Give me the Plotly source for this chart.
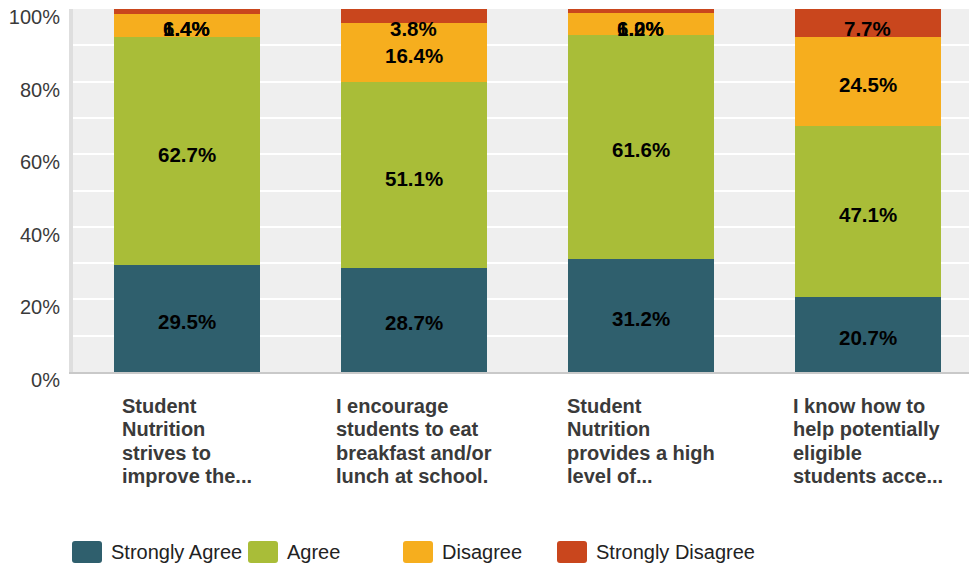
import plotly.graph_objects as go

# ---- data ---------------------------------------------------------------
categories = [
    "Student<br>Nutrition<br>strives to<br>improve the...",
    "I encourage<br>students to eat<br>breakfast and/or<br>lunch at school.",
    "Student<br>Nutrition<br>provides a high<br>level of...",
    "I know how to<br>help potentially<br>eligible<br>students acce...",
]
series_names = ["Strongly Agree", "Agree", "Disagree", "Strongly Disagree"]
strongly_agree = [29.5, 28.7, 31.2, 20.7]
agree = [62.7, 51.1, 61.6, 47.1]
disagree = [6.4, 16.4, 6.0, 24.5]
strongly_disagree = [1.4, 3.8, 1.2, 7.7]
y_tick_values = [0, 20, 40, 60, 80, 100]
y_tick_labels = ["0%", "20%", "40%", "60%", "80%", "100%"]

# ---- styling ------------------------------------------------------------
colors = ["#2f5f6d", "#a9bd38", "#f6ae1e", "#c9461d"]
W, H = 969, 567
M_L, M_R, M_T, M_B = 73, 0, 9, 195
PLOT_W = W - M_L - M_R
PLOT_H = H - M_T - M_B
CAT_STEP_PX = 227          # pixel distance between neighbouring categories
BAR_FRAC = 146 / 227       # share of a category slot covered by the bar
LABEL_CAP = 95.5           # inside labels never sit higher than this value
FONT = "Arial, Liberation Sans, Helvetica, sans-serif"

series_values = [strongly_agree, agree, disagree, strongly_disagree]
x_pos = list(range(len(categories)))

fig = go.Figure()
for name, vals, col in zip(series_names, series_values, colors):
    fig.add_trace(go.Bar(
        x=x_pos, y=vals, name=name, marker=dict(color=col, line=dict(width=0)),
        showlegend=False, hoverinfo="skip",
    ))

annotations = []
# value labels, centred in each segment
base = [0.0] * len(categories)
for vals in series_values:
    for i, v in enumerate(vals):
        centre = min(base[i] + v / 2, LABEL_CAP)
        annotations.append(dict(
            x=i, y=centre, xref="x", yref="y", yshift=-3, text=f"<b>{v:.1f}%</b>",
            showarrow=False, font=dict(family=FONT, size=20.5, color="#000000"),
        ))
        base[i] += v

# category labels below the bars (tighter line pitch than the glyph size)
for i, cat in enumerate(categories):
    annotations.append(dict(
        x=i, y=0, xref="x", yref="paper", yanchor="top", yshift=-21,
        text=f'<span style="font-size:20px"><b>{cat}</b></span>',
        align="left", showarrow=False,
        font=dict(family=FONT, size=18, color="#3a3a3a"),
    ))

# legend row along the bottom edge
legend_x_px = [72, 248, 403, 557]
legend_y_px = 552
sw_w, sw_h, rad = 30, 22, 3
shapes = []
for name, col, lx in zip(series_names, colors, legend_x_px):
    ax = (lx + sw_w / 2 - M_L) / PLOT_W
    ay = (H - M_B - legend_y_px) / PLOT_H
    hw, hh = sw_w / 2, sw_h / 2
    path = (
        f"M{-hw + rad},{-hh} L{hw - rad},{-hh} Q{hw},{-hh} {hw},{-hh + rad} "
        f"L{hw},{hh - rad} Q{hw},{hh} {hw - rad},{hh} L{-hw + rad},{hh} "
        f"Q{-hw},{hh} {-hw},{hh - rad} L{-hw},{-hh + rad} Q{-hw},{-hh} {-hw + rad},{-hh} Z"
    )
    shapes.append(dict(
        type="path", xref="paper", yref="paper", xsizemode="pixel", ysizemode="pixel",
        xanchor=ax, yanchor=ay, path=path, fillcolor=col, line=dict(width=0),
    ))
    annotations.append(dict(
        x=(lx + sw_w + 7 - M_L) / PLOT_W, y=ay, xref="paper", yref="paper",
        xanchor="left", yanchor="middle", text=name, showarrow=False,
        font=dict(family=FONT, size=20, color="#222222"),
    ))

x_hi = -0.5 + PLOT_W / CAT_STEP_PX
fig.update_layout(
    width=W, height=H,
    margin=dict(l=M_L, r=M_R, t=M_T, b=M_B),
    barmode="stack", bargap=1 - BAR_FRAC,
    plot_bgcolor="#efefef", paper_bgcolor="#ffffff",
    showlegend=False,
    annotations=annotations, shapes=shapes,
    xaxis=dict(
        range=[-0.5, x_hi], showticklabels=False, showgrid=False, zeroline=False,
        showline=True, linecolor="#c9c9c9", linewidth=1.5, fixedrange=True,
    ),
    yaxis=dict(
        range=[0, 100], tickvals=y_tick_values, ticktext=y_tick_labels,
        showgrid=True, gridcolor="#ffffff", gridwidth=2,
        minor=dict(dtick=10, showgrid=True, gridcolor="#ffffff", gridwidth=2),
        zeroline=False, showline=True, linecolor="#dedede", linewidth=4,
        ticks="", ticklabelshift=8, ticklabelstandoff=5,
        tickfont=dict(family=FONT, size=20, color="#3a3a3a"), fixedrange=True,
    ),
)

fig.write_html("out.html")
